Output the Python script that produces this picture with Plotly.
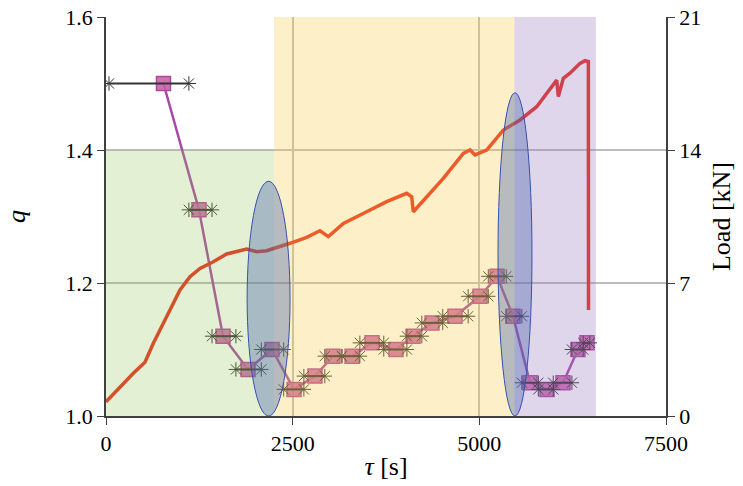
import plotly.graph_objects as go

# Load curve (right axis)
t_load = [0, 187, 366, 522, 634, 768, 880, 991, 1125, 1259, 1437, 1616, 1884, 2018, 2152,
          2330, 2464, 2688, 2866, 2978, 3179, 3491, 3759, 4027, 4094, 4116, 4295, 4518,
          4786, 4875, 4942, 5098, 5321, 5545, 5768, 6036, 6058, 6125, 6214, 6348, 6415,
          6460, 6462]
load = [0.75, 1.54, 2.25, 2.83, 3.83, 4.88, 5.75, 6.63, 7.33, 7.77, 8.12, 8.53, 8.79, 8.65,
        8.70, 8.91, 9.09, 9.40, 9.75, 9.44, 10.14, 10.75, 11.28, 11.72, 11.54, 10.75, 11.54,
        12.51, 13.82, 14.0, 13.74, 14.0, 15.05, 15.58, 16.28, 17.68, 16.81, 17.77, 18.04,
        18.56, 18.70, 18.65, 5.58]

# q values (left axis) with their time windows
t_q = [770, 1245, 1567, 1902, 2223, 2518, 2799, 3040, 3295, 3563, 3884, 4112, 4366, 4674,
       5009, 5237, 5451, 5679, 5906, 6121, 6321, 6442]
q = [1.50, 1.31, 1.12, 1.07, 1.10, 1.04, 1.06, 1.09, 1.09, 1.11, 1.10, 1.12, 1.14, 1.15,
     1.18, 1.21, 1.15, 1.05, 1.04, 1.05, 1.10, 1.11]
win_lo = [40, 1110, 1420, 1740, 2080, 2380, 2650, 2930, 3160, 3400, 3720, 4030, 4230, 4510,
          4850, 5120, 5360, 5570, 5790, 5990, 6240, 6390]
win_hi = [1110, 1420, 1740, 2080, 2380, 2650, 2930, 3160, 3400, 3720, 4030, 4230, 4510, 4850,
          5120, 5360, 5570, 5790, 5990, 6240, 6390, 6480]

# Phase regions: (t start, t end, q top, colour)
regions = [(0, 2250, 1.4, "rgba(147,195,83,0.25)"),
           (2250, 5470, 1.6, "rgba(248,205,72,0.30)"),
           (5470, 6560, 1.6, "rgba(152,118,192,0.30)")]
# Highlight ellipses: (t0, t1, q0, q1)
ellipses = [(1890, 2465, 1.0, 1.353), (5250, 5705, 1.0, 1.486)]

FONT = "Times New Roman, Liberation Serif, DejaVu Serif, serif"

fig = go.Figure()
fig.add_trace(go.Scatter(x=t_load, y=load, yaxis="y2", mode="lines",
                         line=dict(color="#e82a1e", width=3.5), showlegend=False))
fig.add_trace(go.Scatter(x=t_q, y=q, mode="lines+markers",
                         line=dict(color="#a848a8", width=2.5),
                         marker=dict(symbol="square", size=14, color="rgba(200,96,165,0.88)",
                                     line=dict(color="#b0489a", width=1.5)),
                         showlegend=False))
ex, ey = [], []
for lo, hi, v in zip(win_lo, win_hi, q):
    ex += [lo, hi, None]
    ey += [v, v, None]
fig.add_trace(go.Scatter(x=ex, y=ey, mode="lines+markers",
                         line=dict(color="#333333", width=2),
                         marker=dict(symbol="asterisk-open", size=12,
                                     line=dict(color="#333333", width=1)),
                         showlegend=False))

shapes = []
for x0, x1, top, col in regions:
    shapes.append(dict(type="rect", xref="x", yref="y", x0=x0, x1=x1, y0=1.0, y1=top,
                       fillcolor=col, line=dict(width=0), layer="above"))
for x0, x1, y0, y1 in ellipses:
    shapes.append(dict(type="circle", xref="x", yref="y", x0=x0, x1=x1, y0=y0, y1=y1,
                       fillcolor="rgba(70,100,170,0.38)", line=dict(color="#3550b0", width=1),
                       layer="above"))

fig.update_layout(
    width=743, height=486,
    margin=dict(l=106, r=77, t=17, b=70),
    paper_bgcolor="white", plot_bgcolor="white",
    font=dict(family=FONT, size=22, color="black"),
    shapes=shapes,
    xaxis=dict(range=[0, 7500], tickvals=[0, 2500, 5000, 7500], showgrid=True,
               gridcolor="#bdbdbd", gridwidth=1.5, zeroline=False, automargin=False,
               showline=True, linecolor="#404040", linewidth=1.5,
               ticks="outside", ticklen=7, tickcolor="#404040",
               title=dict(text="<i>τ</i> [s]", standoff=2)),
    yaxis=dict(range=[1.0, 1.6], tickvals=[1.0, 1.2, 1.4, 1.6], tickformat=".1f",
               showgrid=True, gridcolor="#bdbdbd", gridwidth=1.5, zeroline=False,
               automargin=False,
               showline=True, linecolor="#404040", linewidth=1.5,
               ticks="outside", ticklen=7, tickcolor="#404040",
               title=dict(text="<i>q</i>", standoff=32)),
    yaxis2=dict(range=[0, 21], tickvals=[0, 7, 14, 21], overlaying="y", side="right",
                showgrid=False, zeroline=False, automargin=False,
                showline=True, linecolor="#404040", linewidth=1.5,
                ticks="outside", ticklen=7, tickcolor="#404040",
                title=dict(text="Load [kN]", standoff=12)),
)

fig.write_html("out.html", config={"displayModeBar": False},
               post_script="document.body.style.margin='0';")
